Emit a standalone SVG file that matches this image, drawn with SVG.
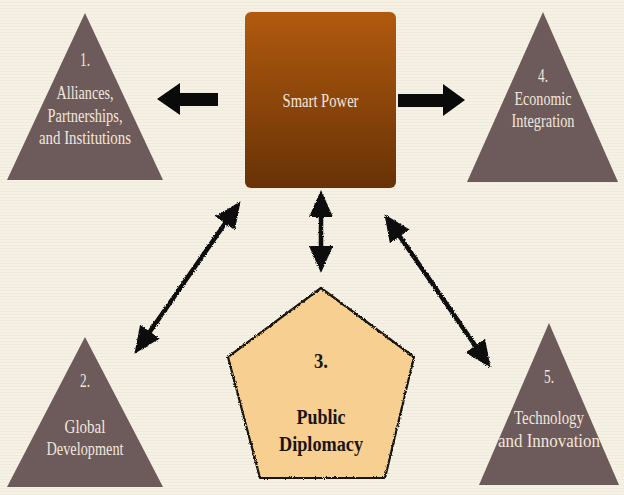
<svg xmlns="http://www.w3.org/2000/svg" width="624" height="495" viewBox="0 0 624 495">
  <defs>
    <style>
      .tri { fill: #6d5a5b; }
      .tt { font-family: "Liberation Serif", "Times New Roman", serif; font-size: 19px; fill: #f1e7dc; text-anchor: middle; }
      .pt { font-family: "Liberation Serif", "Times New Roman", serif; font-size: 20px; font-weight: bold; fill: #1a1510; text-anchor: middle; }
      .hand { stroke: #111; stroke-width: 4.5; fill: none; stroke-linecap: round; }
      .block { fill: #0a0a0a; }
    </style>
    <linearGradient id="boxGrad" x1="0" y1="0" x2="0" y2="1">
      <stop offset="0" stop-color="#b15a0e"/>
      <stop offset="1" stop-color="#683206"/>
    </linearGradient>
    <pattern id="stripes" width="4" height="3" patternUnits="userSpaceOnUse">
      <rect width="4" height="3" fill="#f5f1e5"/>
      <rect y="2" width="4" height="1" fill="#efeadc"/>
    </pattern>
    <filter id="rough" x="-20%" y="-20%" width="140%" height="140%">
      <feTurbulence type="fractalNoise" baseFrequency="0.9" numOctaves="2" seed="3" result="n"/>
      <feDisplacementMap in="SourceGraphic" in2="n" scale="3" xChannelSelector="R" yChannelSelector="G"/>
    </filter>
    <marker id="head" viewBox="0 0 27 24" refX="14" refY="12" markerWidth="27" markerHeight="24" markerUnits="userSpaceOnUse" orient="auto-start-reverse">
      <path d="M0,0 L27,12 L0,24 z" fill="#111"/>
    </marker>
  </defs>

  <rect x="0" y="0" width="624" height="495" fill="url(#stripes)"/>

  <g id="connectors">
    <polygon class="block" points="157,99 180,83 180,93 218,93 218,106 180,106 180,115"/>
    <polygon class="block" points="465,100 443,84 443,94 398,94 398,107 443,107 443,116"/>
    <g filter="url(#rough)">
      <line class="hand" x1="233.1" y1="211.9" x2="141.9" y2="343.1" marker-start="url(#head)" marker-end="url(#head)"/>
      <line class="hand" x1="321" y1="203" x2="321" y2="260" marker-start="url(#head)" marker-end="url(#head)"/>
      <line class="hand" x1="391.8" y1="224.9" x2="483.2" y2="357.1" marker-start="url(#head)" marker-end="url(#head)"/>
    </g>
  </g>

  <g id="smart-power">
    <rect x="245" y="12" width="151" height="176" rx="6" fill="url(#boxGrad)"/>
    <text class="tt" x="320.5" y="107" textLength="76" lengthAdjust="spacingAndGlyphs" fill="#f3e6d6">Smart Power</text>
  </g>

  <g id="node1">
    <polygon class="tri" points="85,13 7,180 163,180"/>
    <text class="tt" x="85" y="66" textLength="10" lengthAdjust="spacingAndGlyphs">1.</text>
    <text class="tt" x="85" y="99" textLength="57" lengthAdjust="spacingAndGlyphs">Alliances,</text>
    <text class="tt" x="85" y="122" textLength="75" lengthAdjust="spacingAndGlyphs">Partnerships,</text>
    <text class="tt" x="85" y="144" textLength="92" lengthAdjust="spacingAndGlyphs">and Institutions</text>
  </g>

  <g id="node4">
    <polygon class="tri" points="543,12 467,182 618,182"/>
    <text class="tt" x="543" y="82" textLength="10" lengthAdjust="spacingAndGlyphs">4.</text>
    <text class="tt" x="543" y="105" textLength="57" lengthAdjust="spacingAndGlyphs">Economic</text>
    <text class="tt" x="543" y="127" textLength="63" lengthAdjust="spacingAndGlyphs">Integration</text>
  </g>

  <g id="node2">
    <polygon class="tri" points="85,337 7,487 163,487"/>
    <text class="tt" x="85" y="387" textLength="10" lengthAdjust="spacingAndGlyphs">2.</text>
    <text class="tt" x="85" y="433" textLength="41" lengthAdjust="spacingAndGlyphs">Global</text>
    <text class="tt" x="85" y="455" textLength="77" lengthAdjust="spacingAndGlyphs">Development</text>
  </g>

  <g id="node5">
    <polygon class="tri" points="549,323 479,485 619,485"/>
    <text class="tt" x="549" y="383" textLength="10" lengthAdjust="spacingAndGlyphs">5.</text>
    <text class="tt" x="549" y="424" textLength="70" lengthAdjust="spacingAndGlyphs">Technology</text>
    <text class="tt" x="549" y="447" textLength="102" lengthAdjust="spacingAndGlyphs">and Innovation</text>
  </g>

  <g id="node3">
    <polygon points="321,288 228,357 260,478 385,478 414,357" fill="#f7cf90" stroke="#161210" stroke-width="2.2" stroke-linejoin="round" filter="url(#rough)"/>
    <text class="pt" x="321" y="368" textLength="14" lengthAdjust="spacingAndGlyphs">3.</text>
    <text class="pt" x="321" y="424" textLength="49" lengthAdjust="spacingAndGlyphs">Public</text>
    <text class="pt" x="321" y="451" textLength="84" lengthAdjust="spacingAndGlyphs">Diplomacy</text>
  </g>
</svg>
